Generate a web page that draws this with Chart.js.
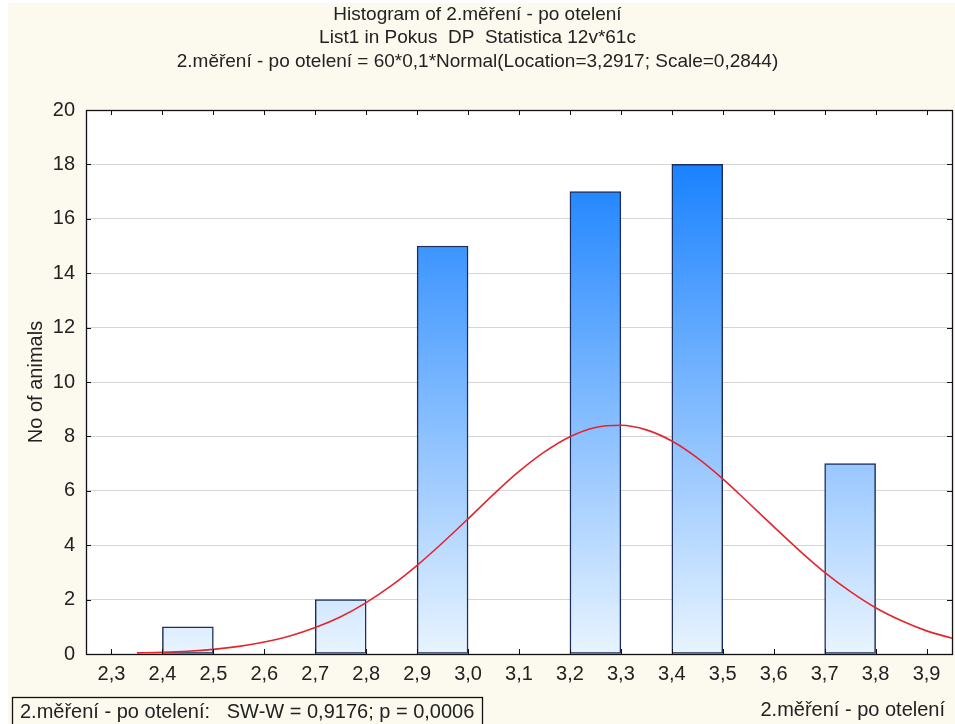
<!DOCTYPE html>
<html>
<head>
<meta charset="utf-8">
<script src="https://cdn.jsdelivr.net/npm/chart.js@4.4.1/dist/chart.umd.min.js"></script>
<style>
html,body{margin:0;padding:0;background:#ffffff;}
#wrap{width:955px;height:724px;position:relative;}
</style>
</head>
<body>
<div id="wrap"><canvas id="c" width="955" height="724"></canvas></div>
<script>
// ---- data ----
const titleLines = [
  'Histogram of 2.měření - po otelení',
  'List1 in Pokus  DP  Statistica 12v*61c',
  '2.měření - po otelení = 60*0,1*Normal(Location=3,2917; Scale=0,2844)'
];
const footerText = '2.měření - po otelení:   SW-W = 0,9176; p = 0,0006';
const xAxisTitle = '2.měření - po otelení';
const yAxisTitle = 'No of animals';

// histogram bins (bin centres, width 0.1) and counts
const binCenters = [2.35, 2.45, 2.55, 2.65, 2.75, 2.85, 2.95, 3.05, 3.15, 3.25, 3.35, 3.45, 3.55, 3.65, 3.75, 3.85];
const binCounts  = [0,    1,    0,    0,    2,    0,    15,   0,    0,    17,   0,    18,   0,    0,    7,    0];

// fitted normal curve
const curveX = [2.35, 2.40, 2.45, 2.50, 2.55, 2.60, 2.65, 2.70, 2.75, 2.80, 2.85, 2.90, 2.95, 3.00, 3.05, 3.10, 3.15,
                3.20, 3.25, 3.30, 3.35, 3.40, 3.45, 3.50, 3.55, 3.60, 3.65, 3.70, 3.75, 3.80, 3.85, 3.90, 3.95];
const curveY = [0.04, 0.06, 0.10, 0.17, 0.28, 0.44, 0.66, 0.97, 1.37, 1.89, 2.52, 3.26, 4.09, 4.97, 5.87, 6.71, 7.43,
                7.99, 8.33, 8.41, 8.24, 7.83, 7.21, 6.44, 5.57, 4.68, 3.81, 3.00, 2.30, 1.70, 1.23, 0.85, 0.58];

const xTickValues = [2.3, 2.4, 2.5, 2.6, 2.7, 2.8, 2.9, 3.0, 3.1, 3.2, 3.3, 3.4, 3.5, 3.6, 3.7, 3.8, 3.9];
const xTickLabels = ['2,3','2,4','2,5','2,6','2,7','2,8','2,9','3,0','3,1','3,2','3,3','3,4','3,5','3,6','3,7','3,8','3,9'];
const yTickValues = [0, 2, 4, 6, 8, 10, 12, 14, 16, 18, 20];
const yTickLabels = ['0','2','4','6','8','10','12','14','16','18','20'];

// ---- rendering ----
const FONT = '"Liberation Sans", Arial, sans-serif';
const TXT = '#222222';
Chart.defaults.font.family = FONT;
Chart.defaults.color = TXT;

let gradCache = null;
function barGradient(context) {
  const chart = context.chart;
  const area = chart.chartArea;
  if (!area) return '#8ec4ff';
  const ys = chart.scales.y;
  const y0 = ys.getPixelForValue(0), y1 = ys.getPixelForValue(18);
  const key = y0 + '_' + y1;
  if (!gradCache || gradCache.key !== key) {
    const g = chart.ctx.createLinearGradient(0, y0, 0, y1);
    g.addColorStop(0, '#e9f4ff');
    g.addColorStop(1, '#1a82ff');
    gradCache = {key, g};
  }
  return gradCache.g;
}

const decorPlugin = {
  id: 'decor',
  beforeDraw(chart) {
    const c = chart.ctx;
    c.save();
    c.fillStyle = '#ffffff';
    c.fillRect(0, 0, chart.width, chart.height);
    c.fillStyle = '#fcf9ef';
    c.fillRect(8, 3, chart.width - 8, chart.height - 3);
    const a = chart.chartArea;
    c.fillStyle = '#ffffff';
    c.fillRect(a.left, a.top, a.right - a.left, a.bottom - a.top);
    c.restore();
  },
  afterDatasetsDraw(chart) {
    const c = chart.ctx;
    const a = chart.chartArea;
    const xs = chart.scales.x, ys = chart.scales.y;
    c.save();
    c.strokeStyle = '#111111';
    c.lineWidth = 1;
    c.beginPath();
    xs.ticks.forEach(t => {
      const px = Math.round(xs.getPixelForValue(t.value)) + 0.5;
      c.moveTo(px, a.bottom); c.lineTo(px, a.bottom - 5);
      c.moveTo(px, a.top); c.lineTo(px, a.top + 5);
    });
    ys.ticks.forEach(t => {
      const py = Math.round(ys.getPixelForValue(t.value)) + 0.5;
      c.moveTo(a.left, py); c.lineTo(a.left + 5, py);
      c.moveTo(a.right, py); c.lineTo(a.right - 5, py);
    });
    c.stroke();
    c.lineWidth = 1.3;
    c.strokeRect(Math.round(a.left) + 0.5, Math.round(a.top) + 0.5,
                 Math.round(a.right - a.left), Math.round(a.bottom - a.top));
    c.restore();
  },
  afterDraw(chart) {
    const c = chart.ctx;
    c.save();
    c.fillStyle = TXT;
    c.font = '19px ' + FONT;
    c.textAlign = 'center';
    c.textBaseline = 'alphabetic';
    const cx = chart.width / 2;
    const baselines = [20, 43, 67];
    titleLines.forEach((t, i) => c.fillText(t, cx, baselines[i]));
    // footer box
    c.font = '20px ' + FONT;
    c.strokeStyle = '#111111';
    c.lineWidth = 1.3;
    c.strokeRect(12.5, 697.5, 470, 40);
    c.textAlign = 'left';
    c.fillText(footerText, 20, 718);
    // x axis title (bottom right)
    c.textAlign = 'right';
    c.fillText(xAxisTitle, 945, 716);
    c.restore();
  }
};

new Chart(document.getElementById('c'), {
  type: 'bar',
  data: {
    datasets: [
      {
        type: 'line',
        data: curveX.map((x, i) => ({x: x, y: curveY[i]})),
        borderColor: '#e2262e',
        borderWidth: 1.6,
        pointRadius: 0,
        fill: false,
        cubicInterpolationMode: 'monotone',
        order: 1
      },
      {
        type: 'bar',
        data: binCenters.map((x, i) => ({x: x, y: binCounts[i]})),
        backgroundColor: barGradient,
        borderColor: '#1c2f5c',
        borderWidth: (ctx) => (ctx.raw && ctx.raw.y > 0 ? 1.5 : 0),
        borderSkipped: false,
        barPercentage: 1,
        categoryPercentage: 1,
        grouped: false,
        order: 2
      }
    ]
  },
  options: {
    responsive: false,
    animation: false,
    devicePixelRatio: 1,
    layout: {padding: {top: 110, left: 20, right: 3, bottom: 0}},
    plugins: {legend: {display: false}, tooltip: {enabled: false}, title: {display: false}},
    scales: {
      x: {
        type: 'linear',
        min: 2.25,
        max: 3.95,
        offset: false,
        afterBuildTicks: (s) => { s.ticks = xTickValues.map(v => ({value: v})); },
        afterFit: (s) => { s.height = 70; },
        grid: {display: false, drawTicks: false},
        border: {display: false},
        ticks: {
          callback: (v, i) => xTickLabels[i],
          font: {size: 20},
          color: TXT,
          padding: 8,
          maxRotation: 0,
          autoSkip: false
        }
      },
      y: {
        min: 0,
        max: 20,
        afterBuildTicks: (s) => { s.ticks = yTickValues.map(v => ({value: v})); },
        afterFit: (s) => { s.width = 66; },
        grid: {color: '#d6d6d6', drawTicks: false},
        border: {display: false},
        ticks: {
          callback: (v, i) => yTickLabels[i],
          font: {size: 20},
          color: TXT,
          padding: 11,
          autoSkip: false
        },
        title: {display: true, text: yAxisTitle, font: {size: 20}, color: TXT, padding: {top: 4, bottom: 4}}
      }
    }
  },
  plugins: [decorPlugin]
});
</script>
</body>
</html>
